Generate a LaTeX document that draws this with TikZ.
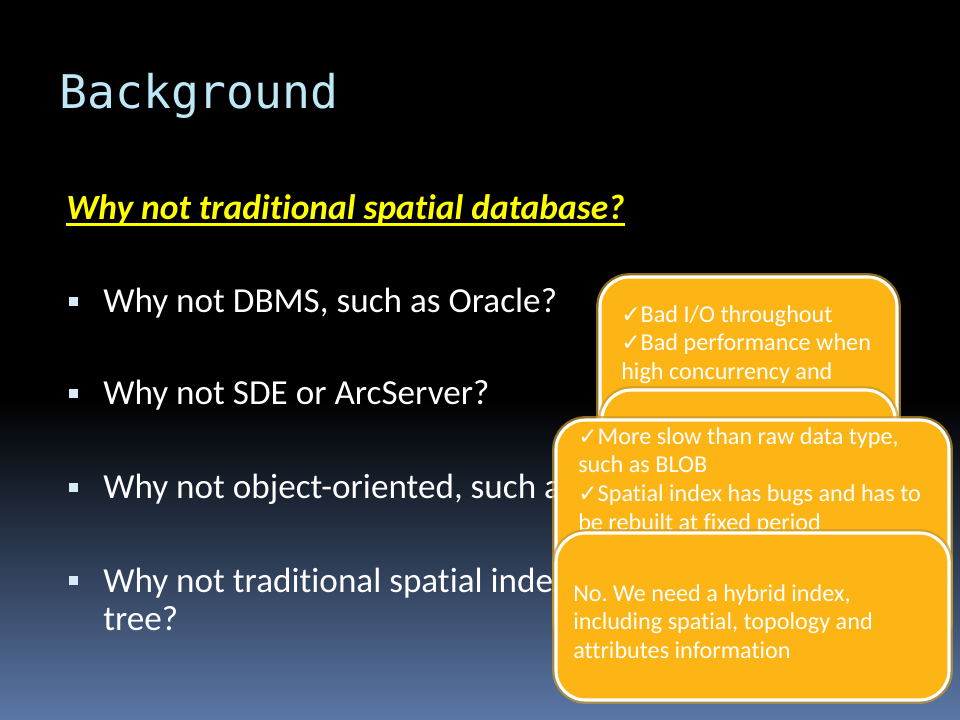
\documentclass[tikz,border=0pt]{standalone}
\usepackage{fontspec}
\setmainfont{Carlito}[Ligatures=NoCommon]
\newfontfamily\titlefont{DejaVu Sans Mono}
\newfontfamily\symfont{DejaVu Sans}
\frenchspacing
\definecolor{titleblue}{HTML}{BDE8F6}
\definecolor{askyellow}{HTML}{FFFF00}
\definecolor{bulletblue}{HTML}{D6EAF8}
\definecolor{noteorange}{HTML}{FDB515}
\definecolor{noteglow}{HTML}{C89B2A}
\definecolor{bgblue}{HTML}{5B78A8}
\tikzstyle{note} = [draw=white, line width=2.2pt, fill=noteorange, rounded corners=21pt, preaction={draw=noteglow, line width=5.5pt, opacity=.7}]
\tikzstyle{notetext} = [anchor=north west, inner sep=0pt, align=left, text=white, font=\fontsize{17.2}{20.5}\selectfont]
\tikzstyle{item} = [anchor=base west, inner sep=0pt, text=white, font=\fontsize{25}{27}\selectfont]
\tikzstyle{dot} = [fill=bulletblue, minimum size=6.4pt, inner sep=0pt]
\newcommand{\tick}{{\symfont\fontsize{16.5}{16.5}\selectfont ✓}}

\begin{document}
\begin{tikzpicture}[x=0.025cm,y=-0.025cm]
	\useasboundingbox (0,0) rectangle (960,720);
	% Slide background:
	\fill[black] (0,0) rectangle (960,401);
	\shade[top color=black, bottom color=bgblue] (0,400) rectangle (960,720);
	% Heading:
	\node[anchor=base west, inner sep=0pt, text=titleblue, font=\titlefont\fontsize{33}{34}\selectfont] (title) at (59,109) {Background};
	\node[anchor=base west, inner sep=0pt, text=askyellow, font=\bfseries\itshape\fontsize{25.2}{26}\selectfont] (question) at (66,220) {Why not traditional spatial database?};
	\draw[askyellow, line width=1.9pt] ([yshift=-3.4pt]question.base west) -- ([yshift=-3.4pt]question.base east);
	% Bullet list:
	\foreach \y/\txt [count=\i] in {313/{Why not DBMS, such as Oracle?}, 405/{Why not SDE or ArcServer?}, 499/{Why not object-oriented, such a}, 592/{Why not traditional spatial index}} {
		\node[dot] (dot\i) at (73,\y-11.5) {};
		\node[item] (item\i) at (103,\y) {\txt};
	}
	\node[item] (tree) at (103,630) {tree?};
	% Answer boxes, stacked:
	\draw[note] (600,277) rectangle (897,480);
	\node[notetext] (noteA) at (621,305) {\tick Bad I/O throughout\\ \tick Bad performance when\\ high concurrency and};
	\draw[note] (602,390) rectangle (895,480);
	\draw[note] (556,420) rectangle (949,650);
	\node[notetext] (noteC) at (578,427) {\tick More slow than raw data type,\\ such as BLOB\\ \tick Spatial index has bugs and has to\\ be rebuilt at fixed period};
	\draw[note] (556,533) rectangle (949,700);
	\node[notetext] (noteD) at (573,584) {No. We need a hybrid index,\\ including spatial, topology and\\ attributes information};
\end{tikzpicture}
\end{document}
